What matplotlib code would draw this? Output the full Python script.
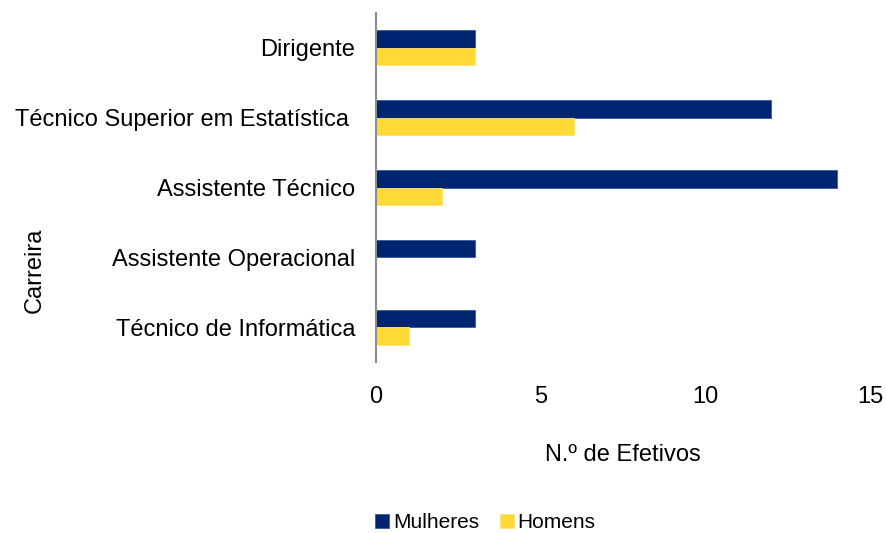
import numpy as np
import matplotlib.pyplot as plt

plt.rcParams['font.family'] = ['Liberation Sans', 'DejaVu Sans']

carreiras = ['Dirigente', 'Técnico Superior em Estatística ', 'Assistente Técnico',
             'Assistente Operacional', 'Técnico de Informática']
mulheres = [3, 12, 14, 3, 3]
homens = [3, 6, 2, 0, 1]

navy = '#002570'
amarelo = '#FFD935'

fig = plt.figure(figsize=(8.86, 5.33), dpi=100)
ax = fig.add_axes([0.4244, 0.3208, 0.5576, 0.6548])

y = np.arange(len(carreiras))
h = 0.25
ax.barh(y - h / 2, mulheres, height=h, color=navy, edgecolor='#3a5a9a', linewidth=0.6, label='Mulheres')
ax.barh(y + h / 2, homens, height=h, color=amarelo, edgecolor='#ffe27a', linewidth=0.6, label='Homens')

ax.set_ylim(len(carreiras) - 0.5, -0.5)
ax.set_xlim(0, 15)
ax.set_xticks([0, 5, 10, 15])
ax.set_yticks(y)
ax.set_yticklabels(carreiras)

for s in ['top', 'right', 'bottom']:
    ax.spines[s].set_visible(False)
ax.spines['left'].set_color('#8c8c8c')
ax.spines['left'].set_linewidth(1.5)

ax.tick_params(axis='y', length=0, pad=15, labelsize=17)
ax.tick_params(axis='x', length=0, pad=17, labelsize=17)

ax.set_xlabel('N.º de Efetivos', fontsize=17, labelpad=26)
ax.set_ylabel('Carreira', fontsize=17)
ax.yaxis.set_label_coords(-0.668, 0.264)

fig.legend(loc='lower center', bbox_to_anchor=(0.548, -0.034), ncol=2, frameon=False,
           fontsize=15, handlelength=0.65, handleheight=0.65, handletextpad=0.2, columnspacing=1.0)

fig.savefig('out.png', dpi=100)
